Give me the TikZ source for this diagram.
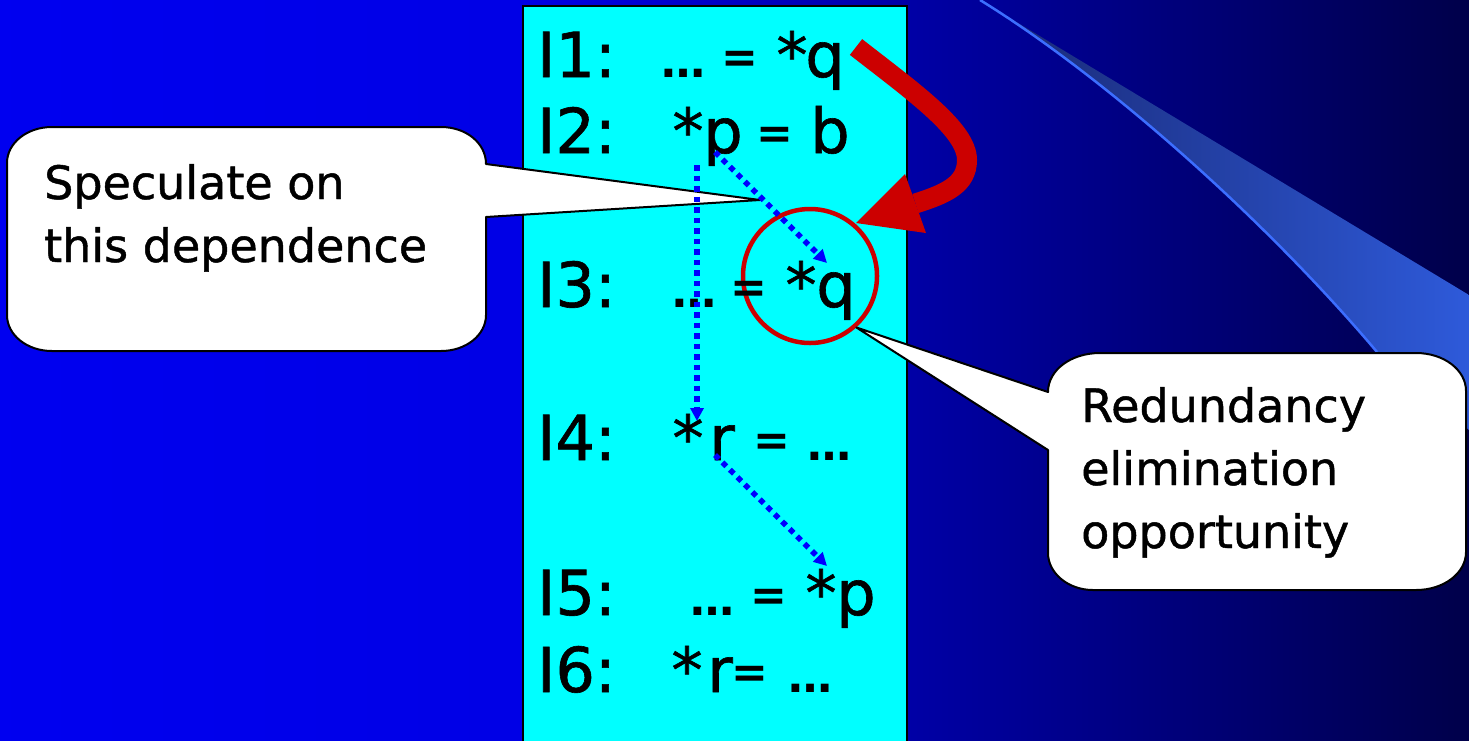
\documentclass[tikz,border=0pt]{standalone}
\usepackage{fontspec}
\setmainfont{DejaVu Sans}[FakeBold=1]
\newfontfamily\symfont{DejaVu Sans Bold}
\usetikzlibrary{arrows.meta}
\pgfdeclarehorizontalshading{bgshade}{100bp}{rgb(0bp)=(0,0,0.94); rgb(25bp)=(0,0,0.94); rgb(42.7bp)=(0,0,0.90); rgb(75bp)=(0,0,0.29); rgb(100bp)=(0,0,0.29)}
\definecolor{boxcyan}{RGB}{0,255,255}
\definecolor{arrred}{RGB}{204,0,0}
\definecolor{dotblue}{RGB}{0,0,255}
\definecolor{bandL}{RGB}{25,40,115}
\definecolor{bandR}{RGB}{46,90,218}
\definecolor{swline}{RGB}{60,110,255}
\newcommand\codesize{\fontsize{62}{76}\selectfont}
\newcommand\symsize{\symfont\fontsize{44}{50}\selectfont}
\newcommand\callsize{\fontsize{46}{63}\selectfont}
\begin{document}
\begin{tikzpicture}[x=1pt,y=-1pt,
  code/.style={font=\codesize, inner sep=0pt, anchor=base},
  sym/.style={font=\symsize, inner sep=0pt, anchor=base},
  eqs/.style={font=\symsize, inner sep=0pt, anchor=base, yshift=5pt},
  codelabel/.style={font=\codesize, inner sep=0pt, anchor=base west},
  calltext/.style={font=\callsize, inner sep=0pt, anchor=base west},
  callout/.style={fill=white, draw=black, line width=2pt, line join=round},
  depline/.style={draw=dotblue, line width=5.5pt, dash pattern=on 5.5pt off 5pt, -{Triangle[length=13pt,width=13pt]}},
  ring/.style={draw=arrred, line width=4.5pt, circle, minimum size=134pt, inner sep=0pt},
]
\useasboundingbox (0,0) rectangle (1469,740);
% background
\shade[shading=bgshade] (0,0) rectangle (1469,740);
% swoosh
\shade[left color=bandL, right color=bandR] (980,0) .. controls (1110,80) and (1270,225) .. (1377,352) -- (1469,430) -- (1469,295) -- cycle;
\draw[swline, line width=2.5pt] (980,0) .. controls (1110,80) and (1270,225) .. (1377,352);
% code box
\draw[fill=boxcyan, line width=2pt] (523,6) rectangle (907,744);
% ring
\node[ring] (ring) at (810,276) {};
% callout tips
\coordinate (t1) at (760,200);
\coordinate (t2) at (ring.-48);
% left callout
\draw[callout] (486,217) -- (t1) -- (486,164)
  .. controls (486,143) and (466,127) .. (441,127) -- (52,127)
  .. controls (27,127) and (7,143) .. (7,163) -- (7,315)
  .. controls (7,335) and (27,351) .. (52,351) -- (441,351)
  .. controls (466,351) and (486,335) .. (486,315) -- cycle;
% right callout
\draw[callout] (1048,450) -- (t2) -- (1048,392)
  .. controls (1048,370) and (1071,353) .. (1100,353) -- (1416,353)
  .. controls (1444,353) and (1466,370) .. (1466,391) -- (1466,552)
  .. controls (1466,573) and (1444,590) .. (1416,590) -- (1093,590)
  .. controls (1068,590) and (1048,573) .. (1048,553) -- cycle;
\node[calltext] (s1) at (44,199) {Speculate on};
\node[calltext] (s2) at (44,262) {this dependence};
\node[calltext] (r1) at (1081,422) {Redundancy};
\node[calltext] (r2) at (1081,485) {elimination};
\node[calltext] (r3) at (1081,548) {opportunity};
% code
\node[codelabel] (l1) at (537,77) {I1:};
\node[sym] (a1) at (683,77) {…};
\node[eqs] (b1) at (740,77) {=};
\node[code] (c1) at (792,77) {*};
\node[code] (d1) at (825,77) {q};
\node[codelabel] (l2) at (537,153) {I2:};
\node[code] (a2) at (688,153) {*};
\node[code] (b2) at (723,153) {p};
\node[eqs] (c2) at (775,153) {=};
\node[code] (d2) at (830,153) {b};
\node[codelabel] (l3) at (537,307) {I3:};
\node[sym] (a3) at (694,307) {…};
\node[eqs] (b3) at (749,307) {=};
\node[code] (c3) at (801,307) {*};
\node[code] (d3) at (836,307) {q};
\node[codelabel] (l4) at (537,460) {I4:};
\node[code] (a4) at (688,460) {*};
\node[code] (b4) at (722,460) {r};
\node[eqs] (c4) at (772,460) {=};
\node[sym] (d4) at (829,460) {…};
\node[codelabel] (l5) at (537,615) {I5:};
\node[sym] (a5) at (712,615) {…};
\node[eqs] (b5) at (769,615) {=};
\node[code] (c5) at (821,615) {*};
\node[code] (d5) at (856,615) {p};
\node[codelabel] (l6) at (537,692) {I6:};
\node[code] (a6) at (687,692) {*};
\node[code] (b6) at (720,692) {r};
\node[eqs] (c6) at (750,692) {=};
\node[sym] (d6) at (810,692) {…};
% dependences
\coordinate (d1s) at (715,152); \coordinate (d1e) at (827,263);
\coordinate (d2s) at (697,165); \coordinate (d2e) at (697,421);
\coordinate (d3s) at (715,455); \coordinate (d3e) at (827,566);
\draw[depline] (d1s) -- (d1e);
\draw[depline] (d2s) -- (d2e);
\draw[depline] (d3s) -- (d3e);
% red arrow
\coordinate (rs) at (856,47);
\coordinate (rm) at (967,160);
\coordinate (re) at (915.5,203.5);
\draw[arrred, line width=20pt] (rs) .. controls (915,93) and (967,130) .. (rm) .. controls (967,185) and (945,194) .. (re);
\fill[arrred] (905,174) -- (856,223) -- (926,233) -- cycle;
\end{tikzpicture}
\end{document}
